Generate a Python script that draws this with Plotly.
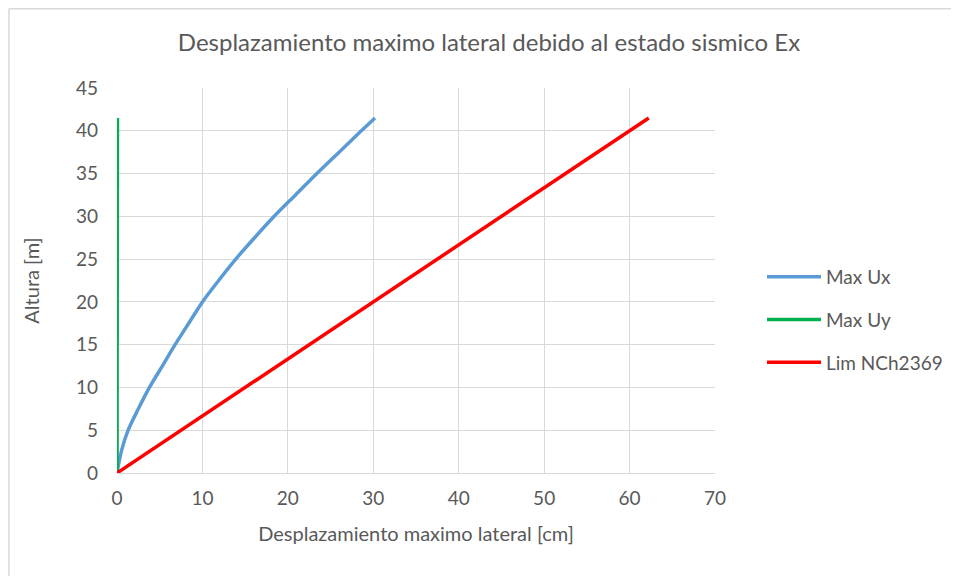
import plotly.graph_objects as go

# Data
altura_ux = [0, 2.5, 5, 7.5, 10, 12.5, 15, 17.5, 20, 22.5, 25, 27.5, 30, 32.5, 35, 37.5, 40, 41.5]
max_ux = [0, 0.5, 1.3, 2.5, 3.8, 5.3, 6.8, 8.4, 10.0, 11.9, 13.9, 16.1, 18.4, 20.9, 23.4, 26.0, 28.6, 30.2]

altura_uy = [0, 41.5]
max_uy = [0.0, 0.05]

altura_lim = [0, 41.5]
lim_nch = [0, 62.25]

x_ticks = [0, 10, 20, 30, 40, 50, 60, 70]
y_ticks = [0, 5, 10, 15, 20, 25, 30, 35, 40, 45]

FONT = "Lato, Open Sans, sans-serif"
TXT = "#595959"
GRID = "#d9d9d9"

fig = go.Figure()
fig.add_trace(go.Scatter(x=max_ux, y=altura_ux, mode="lines", name="Max Ux",
                         line=dict(color="#5b9bd5", width=3.5, shape="spline", smoothing=0.8),
                         legendgroup="a"))
fig.add_trace(go.Scatter(x=max_uy, y=altura_uy, mode="lines", name="Max Uy",
                         line=dict(color="#00b050", width=3.5), legendgroup="b"))
fig.add_trace(go.Scatter(x=lim_nch, y=altura_lim, mode="lines", name="Lim NCh2369",
                         line=dict(color="#ff0000", width=3.5), legendgroup="c"))

# page has an 8px body margin; figure coordinates = screen - 8
OFF = 8
W, H = 959 - OFF, 576 - OFF
L, T = 117 - OFF, 88 - OFF
R = W - (716 - OFF)
B = H - (473 - OFF)
pw, ph = W - L - R, H - T - B

def px_x(sx):
    return (sx - OFF - L) / pw

def px_y(sy):
    return (H - B - (sy - OFF)) / ph

fig.update_layout(
    width=W, height=H,
    margin=dict(l=L, r=R, t=T, b=B),
    paper_bgcolor="white", plot_bgcolor="white",
    font=dict(family=FONT, color=TXT, size=19),
    title=dict(text="Desplazamiento maximo lateral debido al estado sismico Ex",
               x=(489 - OFF) / W, xanchor="center", y=1 - (43 - OFF) / H, yanchor="middle",
               font=dict(size=24, color=TXT, family=FONT)),
    xaxis=dict(range=[0, 70], tickvals=x_ticks, showgrid=True, gridcolor=GRID, gridwidth=1,
               zeroline=False, showline=True, linecolor=GRID, linewidth=1,
               ticks="", ticklabelstandoff=8, tickfont=dict(size=19, color=TXT),
               title=dict(text="Desplazamiento maximo lateral [cm]", font=dict(size=20, color=TXT), standoff=19)),
    yaxis=dict(range=[0, 45], tickvals=y_ticks, showgrid=True, gridcolor=GRID, gridwidth=1,
               zeroline=False, showline=False, ticks="", ticklabelstandoff=18,
               tickfont=dict(size=19, color=TXT),
               title=dict(text="Altura [m]", font=dict(size=20, color=TXT), standoff=30)),
    legend=dict(x=px_x(762), xanchor="left", y=px_y(320), yanchor="middle",
                font=dict(size=19, color=TXT), traceorder="grouped", tracegroupgap=15,
                itemwidth=54, bgcolor="rgba(0,0,0,0)"),
    showlegend=True,
)

# chart outer border (only left and top edges visible in the reference)
bx = (0.75 - L) / pw
by = (H - B - 0.75) / ph
fig.add_shape(type="line", xref="paper", yref="paper", x0=bx, x1=bx, y0=by, y1=(0 - B) / ph,
              line=dict(color="#d9d9d9", width=1.5), layer="below")
fig.add_shape(type="line", xref="paper", yref="paper", x0=bx, x1=(W - L) / pw, y0=by, y1=by,
              line=dict(color="#d9d9d9", width=1.5), layer="below")

fig.write_html("out.html")
